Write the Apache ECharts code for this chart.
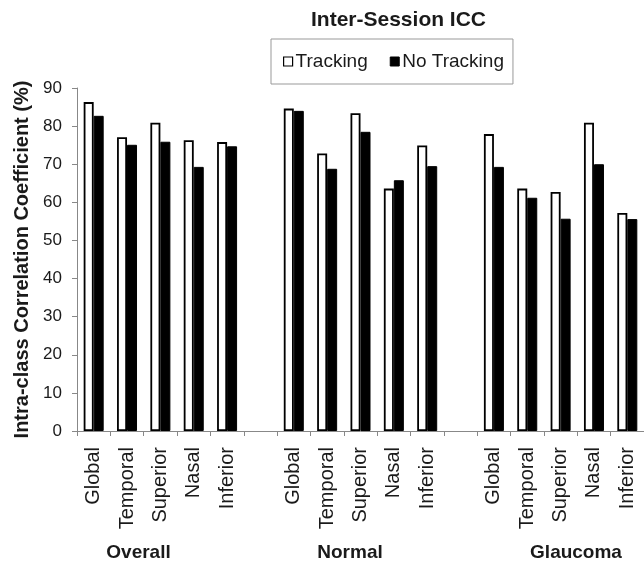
<!DOCTYPE html>
<html>
<head>
<meta charset="utf-8">
<script src="https://cdn.jsdelivr.net/npm/echarts@6/dist/echarts.min.js"></script>
<style>
html,body{margin:0;padding:0;background:#fff;}
#chart{width:644px;height:568px;}
</style>
</head>
<body>
<div id="chart"></div>
<script>
var regions = ['Global', 'Temporal', 'Superior', 'Nasal', 'Inferior'];
var groupNames = ['Overall', 'Normal', 'Glaucoma'];
var yTicks = [0, 10, 20, 30, 40, 50, 60, 70, 80, 90];

var overallTracking   = [86.3, 77.1, 80.9, 76.3, 75.8];
var overallNoTracking = [82.7, 75.1, 75.9, 69.3, 74.7];
var normalTracking    = [84.6, 72.8, 83.4, 63.6, 74.9];
var normalNoTracking  = [84.0, 68.8, 78.5, 65.8, 69.5];
var glaucomaTracking  = [77.9, 63.6, 62.7, 80.9, 57.2];
var glaucomaNoTracking= [69.3, 61.2, 55.7, 70.0, 55.6];

// build category axis with an empty slot between groups
var categories = [].concat(regions, [''], regions, [''], regions);
var trackingData = [].concat(overallTracking, ['-'], normalTracking, ['-'], glaucomaTracking);
var noTrackingData = [].concat(overallNoTracking, ['-'], normalNoTracking, ['-'], glaucomaNoTracking);

var chart = echarts.init(document.getElementById('chart'), null, {renderer: 'canvas'});
var txt = '#1a1a1a';
var font = 'Liberation Sans, Arial, sans-serif';

chart.setOption({
  backgroundColor: '#fff',
  animation: false,
  textStyle: {fontFamily: font, color: txt},
  title: {
    text: 'Inter-Session ICC',
    left: 311, top: 10, padding: 0,
    textStyle: {fontFamily: font, fontSize: 21, fontWeight: 'bold', color: txt}
  },
  legend: {
    left: 271, top: 39,
    padding: [13, 9, 13, 12],
    borderColor: '#999', borderWidth: 1,
    itemWidth: 9, itemHeight: 9, itemGap: 22,
    icon: 'rect',
    textStyle: {fontFamily: font, fontSize: 19, color: txt, padding: [0, 0, 0, -2]},
    data: [
      {name: 'Tracking', itemStyle: {color: '#fff', borderColor: '#000', borderWidth: 1.2}},
      {name: 'No Tracking', itemStyle: {color: '#000', borderColor: '#000', borderWidth: 1}}
    ]
  },
  grid: {left: 77, top: 88, width: 575.6, height: 343, containLabel: false},
  xAxis: {
    type: 'category',
    data: categories,
    axisLine: {lineStyle: {color: '#888', width: 1}},
    axisTick: {show: true, length: 5, lineStyle: {color: '#888'}, alignWithLabel: false},
    axisLabel: {interval: 0, rotate: 90, margin: 16, fontSize: 20, color: txt, fontFamily: font},
    splitLine: {show: false}
  },
  yAxis: {
    type: 'value',
    min: 0, max: 90, interval: 10,
    name: 'Intra-class Correlation Coefficient (%)',
    nameLocation: 'middle',
    nameRotate: 90,
    nameGap: 44,
    nameTextStyle: {fontFamily: font, fontSize: 20, fontWeight: 'bold', color: txt},
    axisLine: {show: true, lineStyle: {color: '#888', width: 1}},
    axisTick: {show: true, length: 5, inside: false, lineStyle: {color: '#888'}},
    axisLabel: {margin: 15, fontSize: 17, color: txt, fontFamily: font,
      formatter: function (v) { return yTicks.indexOf(v) >= 0 ? String(v) : ''; }},
    splitLine: {show: false}
  },
  series: [
    {
      name: 'Tracking', type: 'bar', data: trackingData,
      barWidth: 10, barGap: '0%',
      itemStyle: {color: '#fff', borderColor: '#000', borderWidth: 1.8}
    },
    {
      name: 'No Tracking', type: 'bar', data: noTrackingData,
      barWidth: 10, barGap: '0%',
      itemStyle: {color: '#000', borderColor: '#000', borderWidth: 1}
    }
  ],
  graphic: [
    {type: 'text', x: 138.5, y: 553, style: {text: groupNames[0], font: 'bold 19px ' + font, fill: txt, align: 'center', verticalAlign: 'middle'}},
    {type: 'text', x: 350, y: 553, style: {text: groupNames[1], font: 'bold 19px ' + font, fill: txt, align: 'center', verticalAlign: 'middle'}},
    {type: 'text', x: 576, y: 553, style: {text: groupNames[2], font: 'bold 19px ' + font, fill: txt, align: 'center', verticalAlign: 'middle'}}
  ]
});
</script>
</body>
</html>
